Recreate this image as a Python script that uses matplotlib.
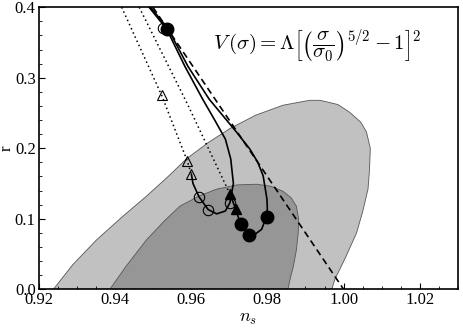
import matplotlib
matplotlib.use("Agg")
import matplotlib.pyplot as plt
from matplotlib.patches import Polygon
from matplotlib.ticker import MultipleLocator

plt.rcParams['mathtext.fontset'] = 'cm'
plt.rcParams['font.family'] = ['Liberation Serif', 'DejaVu Serif']

# Confidence contours (boundary)
outer_ns = [0.9239, 0.9290, 0.9352, 0.9420, 0.9483, 0.9540, 0.9588, 0.9645, 0.9702, 0.9770,
            0.9841, 0.9911, 0.9938, 0.9985, 1.0016, 1.0045, 1.0060, 1.0070, 1.0068, 1.0064,
            1.0050, 1.0034, 1.0005, 0.9977, 0.9969]
outer_r = [0.000, 0.035, 0.070, 0.103, 0.132, 0.160, 0.185, 0.208, 0.228, 0.247,
           0.261, 0.268, 0.268, 0.262, 0.251, 0.237, 0.223, 0.200, 0.170, 0.142,
           0.110, 0.080, 0.045, 0.014, 0.000]
inner_ns = [0.9387, 0.9430, 0.9483, 0.9530, 0.9571, 0.9620, 0.9667, 0.9720, 0.9772, 0.9810,
            0.9841, 0.9862, 0.9876, 0.9882, 0.9881, 0.9876, 0.9868, 0.9860, 0.9854]
inner_r = [0.000, 0.033, 0.070, 0.097, 0.118, 0.132, 0.142, 0.148, 0.149, 0.146,
           0.139, 0.130, 0.118, 0.100, 0.080, 0.055, 0.032, 0.015, 0.000]

# Trajectories
solidA_ns = [0.9490, 0.9536, 0.9584, 0.9630, 0.9662, 0.9690, 0.9704, 0.9711, 0.9702,
             0.9690, 0.9667, 0.9645, 0.9621, 0.9605, 0.9601]
solidA_r = [0.400, 0.369, 0.316, 0.270, 0.240, 0.213, 0.185, 0.150, 0.123,
            0.111, 0.107, 0.113, 0.131, 0.150, 0.163]
solidB_ns = [0.9494, 0.9540, 0.9592, 0.9647, 0.9719, 0.9754, 0.9775, 0.9789, 0.9799, 0.9800,
             0.9798, 0.9785, 0.9765, 0.9752, 0.9730, 0.9717, 0.9702]
solidB_r = [0.400, 0.369, 0.316, 0.270, 0.223, 0.199, 0.180, 0.161, 0.128, 0.115,
            0.103, 0.085, 0.077, 0.078, 0.092, 0.114, 0.135]
dotA_ns = [0.9418, 0.9523, 0.9590, 0.9601]
dotA_r = [0.400, 0.275, 0.182, 0.163]
dotB_ns = [0.9464, 0.9592, 0.9702]
dotB_r = [0.400, 0.261, 0.135]
dash_ns = [0.9500, 1.0000]
dash_r = [0.400, 0.000]

# Markers
open_tri_ns = [0.9523, 0.9590, 0.9601]
open_tri_r = [0.275, 0.182, 0.163]
open_circ_ns = [0.9527, 0.9621, 0.9645, 0.9702]
open_circ_r = [0.371, 0.131, 0.113, 0.123]
fill_tri_ns = [0.9702, 0.9717]
fill_tri_r = [0.135, 0.114]
fill_circ_ns = [0.9538, 0.9730, 0.9752, 0.9798]
fill_circ_r = [0.369, 0.092, 0.0776, 0.103]

fig = plt.figure(figsize=(4.63, 3.28), dpi=100)
ax = fig.add_axes([0.0832, 0.118, 0.906, 0.860])

ax.add_patch(Polygon(list(zip(outer_ns, outer_r)), closed=True, facecolor='#c1c1c1',
                     edgecolor='#555555', linewidth=0.6, zorder=1))
ax.add_patch(Polygon(list(zip(inner_ns, inner_r)), closed=True, facecolor='#969696',
                     edgecolor='#555555', linewidth=0.6, zorder=2))

ax.plot(dash_ns, dash_r, color='black', lw=1.2, ls=(0, (4, 2.5)), zorder=3)
ax.plot(dotA_ns, dotA_r, color='black', lw=1.1, ls=(0, (1, 2)), zorder=3)
ax.plot(dotB_ns, dotB_r, color='black', lw=1.1, ls=(0, (1, 2)), zorder=3)
ax.plot(solidA_ns, solidA_r, color='black', lw=1.2, zorder=4)
ax.plot(solidB_ns, solidB_r, color='black', lw=1.2, zorder=4)

ax.plot(open_tri_ns, open_tri_r, ls='none', marker='^', ms=7, mfc='none', mec='black', mew=0.8, zorder=5)
ax.plot(open_circ_ns, open_circ_r, ls='none', marker='o', ms=7.5, mfc='none', mec='black', mew=0.8, zorder=5)
ax.plot(fill_tri_ns, fill_tri_r, ls='none', marker='^', ms=7, mfc='black', mec='black', zorder=5)
ax.plot(fill_circ_ns, fill_circ_r, ls='none', marker='o', ms=9, mfc='black', mec='black', zorder=6)

ax.set_xlim(0.92, 1.03)
ax.set_ylim(0.0, 0.4)
ax.xaxis.set_major_locator(MultipleLocator(0.02))
ax.xaxis.set_minor_locator(MultipleLocator(0.005))
ax.yaxis.set_major_locator(MultipleLocator(0.1))
ax.yaxis.set_minor_locator(MultipleLocator(0.02))
ax.xaxis.set_major_formatter(plt.FuncFormatter(lambda v, p: f"{v:.2f}"))
ax.yaxis.set_major_formatter(plt.FuncFormatter(lambda v, p: f"{v:.1f}"))
ax.tick_params(which='both', direction='in', labelsize=12, top=False, right=False)
ax.tick_params(which='major', length=4, width=0.8, pad=2)
ax.tick_params(which='minor', length=2, width=0.6)
for s in ax.spines.values():
    s.set_linewidth(1.2)

ax.set_xlabel(r'$n_s$', fontsize=13)
ax.xaxis.set_label_coords(0.5, -0.075)
ax.set_ylabel('r', fontsize=12, rotation=90, va='center', ha='center')
ax.yaxis.set_label_coords(-0.075, 0.5)

ax.text(0.416, 0.866, r'$V\,(\sigma) = \Lambda\left[\left(\dfrac{\sigma}{\sigma_0}\right)^{5/2} - 1\right]^2$',
        transform=ax.transAxes, ha='left', va='center', fontsize=15, zorder=7)

fig.savefig('out.png', dpi=100)
